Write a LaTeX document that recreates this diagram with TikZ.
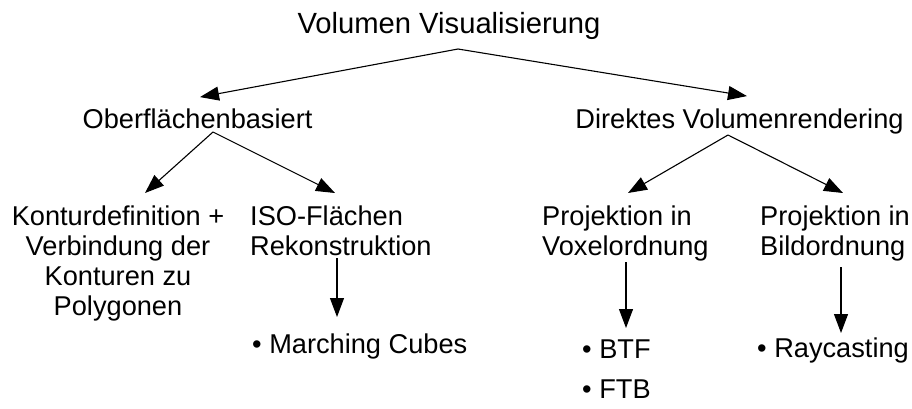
\documentclass[tikz,border=0pt]{standalone}
\usepackage{fontspec}
\setmainfont{Liberation Sans}
\usetikzlibrary{arrows.meta,calc}
\begin{document}
\begin{tikzpicture}[x=1pt,y=-1pt,
  lbl/.style={inner sep=0pt, font=\fontsize{27.2}{30}\selectfont},
  ttl/.style={inner sep=0pt, font=\fontsize{29.2}{32}\selectfont},
  arr/.style={line width=1.1pt, -{Triangle[length=19pt,width=14pt]}}]
\fill[white] (0,0) rectangle (912,408);
\useasboundingbox (0,0) rectangle (912,408);

\node[ttl, anchor=base] (title) at (449,33) {Volumen Visualisierung};
\node[lbl, anchor=base] (ob) at (197.5,128) {Oberflächenbasiert};
\node[lbl, anchor=base] (dv) at (739.5,128) {Direktes Volumenrendering};

\node[lbl, anchor=north, align=center] (kd) at (118,206) {Konturdefinition +\\Verbindung der\\Konturen zu\\Polygonen};
\node[lbl, anchor=north west, align=left] (iso) at (250,206) {ISO-Flächen\\Rekonstruktion};
\node[lbl, anchor=north west, align=left] (pv) at (542,206) {Projektion in\\Voxelordnung};
\node[lbl, anchor=north west, align=left] (pb) at (760,206) {Projektion in\\Bildordnung};

\node[lbl, anchor=base west] (mc) at (252,353) {• Marching Cubes};
\node[lbl, anchor=north west, align=left, font=\fontsize{27.2}{40}\selectfont] (bl) at (582,339.5) {• BTF\\• FTB};
\node[lbl, anchor=base west] (rc) at (757,357) {• Raycasting};

\coordinate (ta) at ($(title.base)+(9,16)$);
\coordinate (oa) at ($(ob.base)+(15.5,4)$);
\coordinate (da) at ($(dv.base)+(-11.5,7)$);

\draw[arr] (ta) -- ($(ob.north)+(2.5,-11)$);
\draw[arr] (ta) -- ($(dv.north)+(7.5,-12)$);
\draw[arr] (oa) -- ($(kd.north)+(27,-13)$);
\draw[arr] (oa) -- ($(iso.north west)+(85,-13)$);
\draw[arr] (da) -- ($(pv.north west)+(86,-13)$);
\draw[arr] (da) -- ($(pb.north west)+(83,-13)$);

\draw[arr] ($(iso.north west)+(87,52)$) -- ($(mc.base west)+(85,-36)$);
\draw[arr] ($(pv.north west)+(84,56)$) -- ($(bl.north west)+(44,-11.5)$);
\draw[arr] ($(pb.north west)+(81,61)$) -- ($(rc.base west)+(84,-24)$);
\end{tikzpicture}
\end{document}
